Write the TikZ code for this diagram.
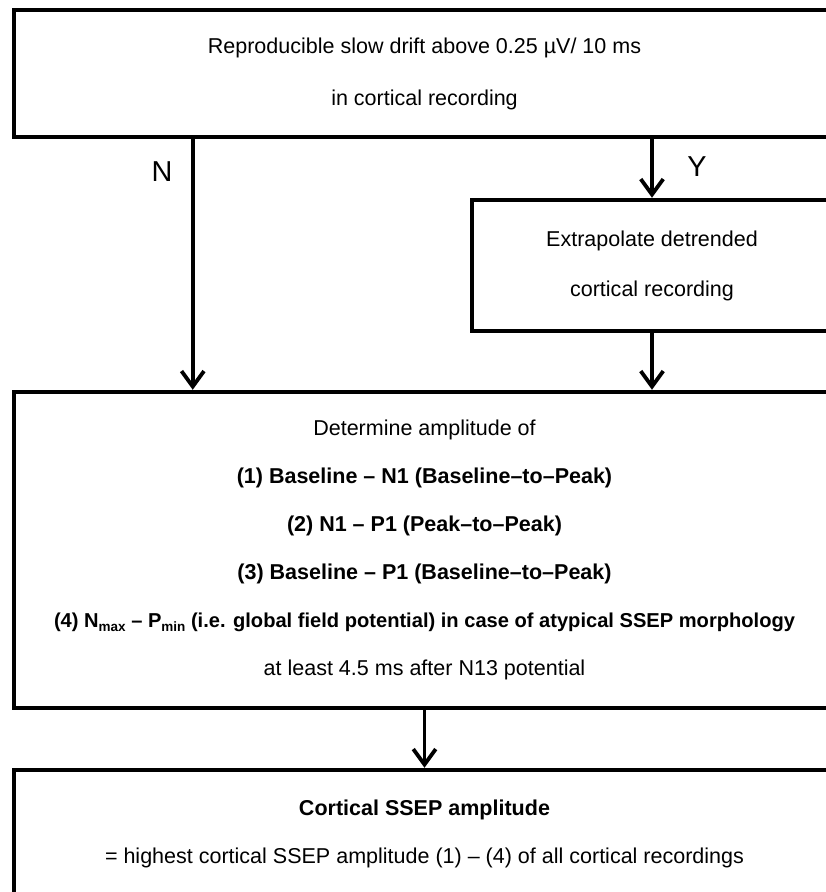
\documentclass[tikz,border=0pt]{standalone}
\usepackage{fontspec}
\setmainfont{Liberation Sans}
\usepackage{xcolor}
\usetikzlibrary{arrows.meta,positioning}
\definecolor{ink}{HTML}{000000}

\newcommand{\lowidx}[1]{\raisebox{-0.35ex}{\fontsize{9.6}{10}\selectfont #1}}

\tikzset{
  box/.style={draw=ink,line width=3.2pt,align=center,inner sep=0pt,
              minimum width=20.525cm},
  flow/.style={draw=ink,line width=2.7pt,
               -{Straight Barb[length=11pt,width=16pt]}},
  branch/.style={font=\fontsize{20.5}{24}\selectfont,inner sep=0pt}
}

\begin{document}
\begin{tikzpicture}
  \path[use as bounding box,clip] (0,0) rectangle (20.65,-22.3);

  \node[box,minimum height=3.175cm,font=\fontsize{15.3}{37}\selectfont]
    (drift) at (10.6125,-1.8375)
    {Reproducible slow drift above 0.25 µV/ 10 ms\\
     in cortical recording};

  \node[box,minimum width=9cm,minimum height=3.275cm,
        font=\fontsize{15.3}{35.6}\selectfont]
    (extra) at (16.3,-6.6375)
    {Extrapolate detrended\\
     cortical recording};

  \node[box,minimum height=7.9cm,font=\fontsize{15.3}{34.2}\selectfont]
    (ampl) at (10.6125,-13.75)
    {Determine amplitude of\\
     \bfseries (1) Baseline – N1 (Baseline–to–Peak)\\
     \bfseries (2) N1 – P1 (Peak–to–Peak)\\
     \bfseries (3) Baseline – P1 (Baseline–to–Peak)\\
     {\fontsize{14.3}{34.2}\selectfont\bfseries (4) N\lowidx{max} – P\lowidx{min} (i.e. global field potential) in case of atypical SSEP morphology}\\
     at least 4.5 ms after N13 potential};

  \node[box,minimum height=3.2cm,font=\fontsize{15.3}{34.1}\selectfont]
    (result) at (10.6125,-20.85)
    {\bfseries Cortical SSEP amplitude\\
     = highest cortical SSEP amplitude (1) – (4) of all cortical recordings};

  % branches
  \draw[flow] ([xshift=4.525cm]drift.south west) -- ([xshift=4.525cm]ampl.north west);
  \draw[flow] (drift.south -| extra.north) -- (extra.north);
  \draw[flow] (extra.south) -- (ampl.north -| extra.south);
  \draw[flow] (ampl.south) -- (result.north);

  \node[branch] (no) at (4.05,-4.3) {N};
  \node[branch] (yes) at (17.425,-4.175) {Y};
\end{tikzpicture}
\end{document}
